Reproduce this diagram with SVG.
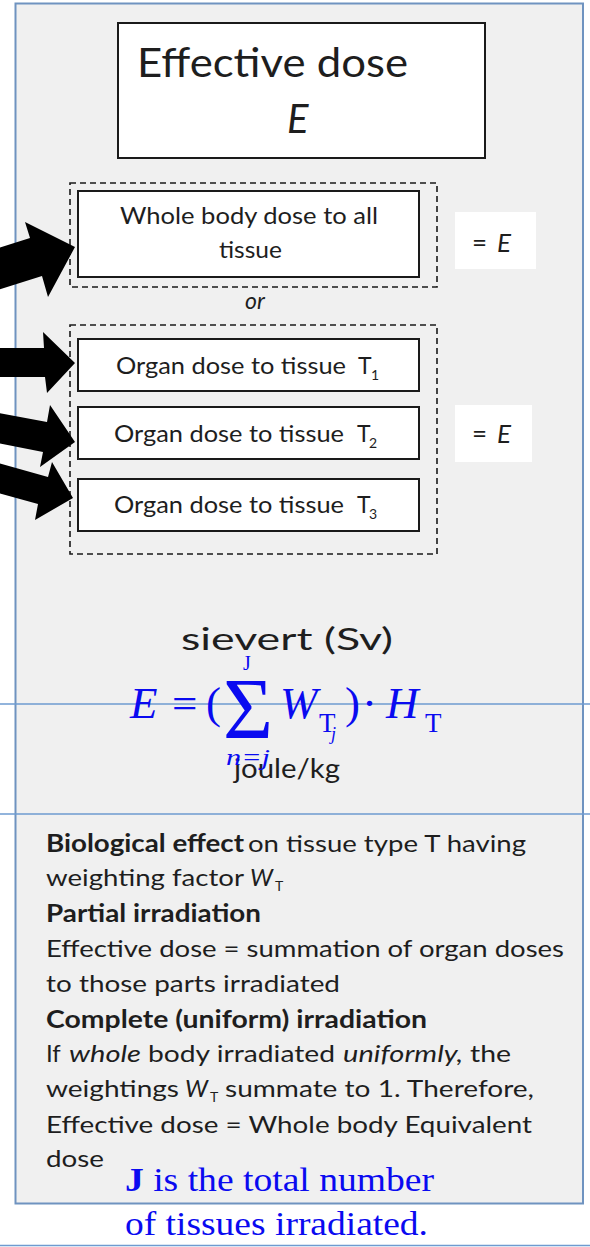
<svg xmlns="http://www.w3.org/2000/svg" width="590" height="1247" viewBox="0 0 590 1247">
<style>
.sans{font-family:Lato,"Liberation Sans",sans-serif;fill:#1e1e1e}
.serif{font-family:"Liberation Serif","Times New Roman",serif;fill:#0a0af0}
.box{fill:#fff;stroke:#1a1a1a;stroke-width:2}
.dash{fill:none;stroke:#1a1a1a;stroke-width:1.6;stroke-dasharray:6 4}
.hl{stroke:#6e9bd0;stroke-width:1.6}
.arrow{fill:#000}
</style>
<rect width="590" height="1247" fill="#fff"/>
<g id="panel">
<rect x="15.5" y="3.5" width="567.5" height="1200" fill="#f0f0f0" stroke="#6f93c0" stroke-width="2"/>
</g>
<g id="rules">
<line class="hl" x1="0" y1="704" x2="590" y2="704"/>
<line class="hl" x1="0" y1="814" x2="590" y2="814"/>
<line class="hl" x1="0" y1="1245.5" x2="590" y2="1245.5" stroke="#5a7fa8"/>
</g>
<g id="effective-dose">
<rect class="box" x="118" y="23" width="367" height="135"/>
<text class="sans" x="137" y="77" font-size="40" textLength="271" lengthAdjust="spacingAndGlyphs">Effective dose</text>
<text class="sans" x="287" y="133" font-size="40" font-style="italic">E</text>
</g>
<g id="whole-group">
<rect class="dash" x="70" y="183" width="367" height="104"/>
</g>
<g id="whole-body">
<rect class="box" x="78" y="191" width="341" height="86"/>
<text class="sans" x="120" y="224" font-size="23" textLength="258" lengthAdjust="spacingAndGlyphs">Whole body dose to all</text>
<text class="sans" x="219" y="258" font-size="23" textLength="63" lengthAdjust="spacingAndGlyphs">tissue</text>
</g>
<g id="eq-e-1">
<rect x="455" y="212" width="81" height="57" fill="#fff"/>
<text class="sans" x="472" y="252" font-size="26" textLength="39" lengthAdjust="spacing">= <tspan font-style="italic">E</tspan></text>
</g>
<g id="or-label">
<text class="sans" x="245" y="309" font-size="23" font-style="italic">or</text>
</g>
<g id="organ-group">
<rect class="dash" x="70" y="325" width="367" height="229"/>
</g>
<g id="organ-t1">
<rect class="box" x="78" y="339" width="341" height="52"/>
<text class="sans" x="116" y="374" font-size="23" textLength="230" lengthAdjust="spacingAndGlyphs">Organ dose to tissue</text>
<text class="sans" x="358" y="374" font-size="23">T</text>
<text class="sans" x="371" y="380" font-size="14">1</text>
</g>
<g id="organ-t2">
<rect class="box" x="78" y="407" width="341" height="52"/>
<text class="sans" x="114" y="442" font-size="23" textLength="230" lengthAdjust="spacingAndGlyphs">Organ dose to tissue</text>
<text class="sans" x="357" y="442" font-size="23">T</text>
<text class="sans" x="369" y="448" font-size="14">2</text>
</g>
<g id="organ-t3">
<rect class="box" x="78" y="479" width="341" height="52"/>
<text class="sans" x="114" y="513" font-size="23" textLength="230" lengthAdjust="spacingAndGlyphs">Organ dose to tissue</text>
<text class="sans" x="357" y="513" font-size="23">T</text>
<text class="sans" x="369" y="519" font-size="14">3</text>
</g>
<g id="eq-e-2">
<rect x="455" y="405" width="77" height="57" fill="#fff"/>
<text class="sans" x="472" y="443" font-size="26" textLength="39" lengthAdjust="spacing">= <tspan font-style="italic">E</tspan></text>
</g>
<g id="connectors">
<polygon class="arrow" points="-2,248 30,238 25,222 75,247 48,297 42,276 -2,290"/>
<polygon class="arrow" points="-2,348 44,348 43,332 75,363 47,393 45,377 -2,377"/>
<polygon class="arrow" points="-2,413 47,422 50,405 75,442 40,467 43,452 -2,443"/>
<polygon class="arrow" points="-2,463 48,477 52,462 73,498 35,520 38,504 -2,493"/>
</g>
<g id="units">
<text class="sans" x="181" y="650" font-size="30" textLength="212" lengthAdjust="spacingAndGlyphs">sievert (Sv)</text>
<text class="sans" x="234" y="778" font-size="26" textLength="106" lengthAdjust="spacingAndGlyphs" fill="#333">joule/kg</text>
</g>
<g id="formula">
<text class="serif" x="130" y="718" font-size="45" font-style="italic">E</text>
<text class="serif" x="172" y="718" font-size="45">=</text>
<text class="serif" x="206" y="718" font-size="45">(</text>
<text class="serif" x="223" y="738" font-size="86" textLength="50" lengthAdjust="spacingAndGlyphs">Σ</text>
<text class="serif" x="243" y="670" font-size="20">J</text>
<text class="serif" x="226" y="765" font-size="24" font-style="italic" textLength="44" lengthAdjust="spacingAndGlyphs">n=j</text>
<text class="serif" x="280" y="718" font-size="45" font-style="italic">W</text>
<text class="serif" x="319" y="732" font-size="27">T</text>
<text class="serif" x="331" y="740" font-size="18" font-style="italic">j</text>
<text class="serif" x="345" y="718" font-size="45">)</text>
<text class="serif" x="362" y="718" font-size="45">·</text>
<text class="serif" x="386" y="718" font-size="45" font-style="italic">H</text>
<text class="serif" x="425" y="732" font-size="27">T</text>
</g>
<g id="notes">
<text class="sans" x="46" y="852" font-size="24"><tspan font-weight="bold" textLength="198" lengthAdjust="spacingAndGlyphs">Biological effect</tspan></text>
<text class="sans" x="248" y="852" font-size="24" textLength="278" lengthAdjust="spacingAndGlyphs">on tissue type T having</text>
<text class="sans" x="46" y="886" font-size="24" textLength="198" lengthAdjust="spacingAndGlyphs">weighting factor</text>
<text class="sans" x="250" y="886" font-size="24" font-style="italic">W</text>
<text class="sans" x="275" y="891" font-size="14">T</text>
<text class="sans" x="46" y="922" font-size="24" font-weight="bold" textLength="215" lengthAdjust="spacingAndGlyphs">Partial irradiation</text>
<text class="sans" x="46" y="957" font-size="24" textLength="518" lengthAdjust="spacingAndGlyphs">Effective dose = summation of organ doses</text>
<text class="sans" x="46" y="992" font-size="24" textLength="294" lengthAdjust="spacingAndGlyphs">to those parts irradiated</text>
<text class="sans" x="46" y="1028" font-size="24" font-weight="bold" textLength="381" lengthAdjust="spacingAndGlyphs">Complete (uniform) irradiation</text>
<text class="sans" x="46" y="1062" font-size="24">If</text>
<text class="sans" x="69" y="1062" font-size="24" font-style="italic" textLength="72" lengthAdjust="spacingAndGlyphs">whole</text>
<text class="sans" x="148" y="1062" font-size="24" textLength="187" lengthAdjust="spacingAndGlyphs">body irradiated</text>
<text class="sans" x="343" y="1062" font-size="24" font-style="italic" textLength="120" lengthAdjust="spacingAndGlyphs">uniformly,</text>
<text class="sans" x="470" y="1062" font-size="24" textLength="41" lengthAdjust="spacingAndGlyphs">the</text>
<text class="sans" x="46" y="1097" font-size="24" textLength="133" lengthAdjust="spacingAndGlyphs">weightings</text>
<text class="sans" x="185" y="1097" font-size="24" font-style="italic">W</text>
<text class="sans" x="210" y="1102" font-size="14">T</text>
<text class="sans" x="225" y="1097" font-size="24" textLength="309" lengthAdjust="spacingAndGlyphs">summate to 1. Therefore,</text>
<text class="sans" x="46" y="1133" font-size="24" textLength="486" lengthAdjust="spacingAndGlyphs">Effective dose = Whole body Equivalent</text>
<text class="sans" x="46" y="1167" font-size="24" textLength="58" lengthAdjust="spacingAndGlyphs">dose</text>
</g>
<g id="footnote">
<text class="serif" x="125" y="1191" font-size="34" textLength="309" lengthAdjust="spacingAndGlyphs"><tspan font-weight="bold">J</tspan> is the total number</text>
<text class="serif" x="125" y="1235" font-size="34" textLength="303" lengthAdjust="spacingAndGlyphs">of tissues irradiated.</text>
</g>
</svg>
